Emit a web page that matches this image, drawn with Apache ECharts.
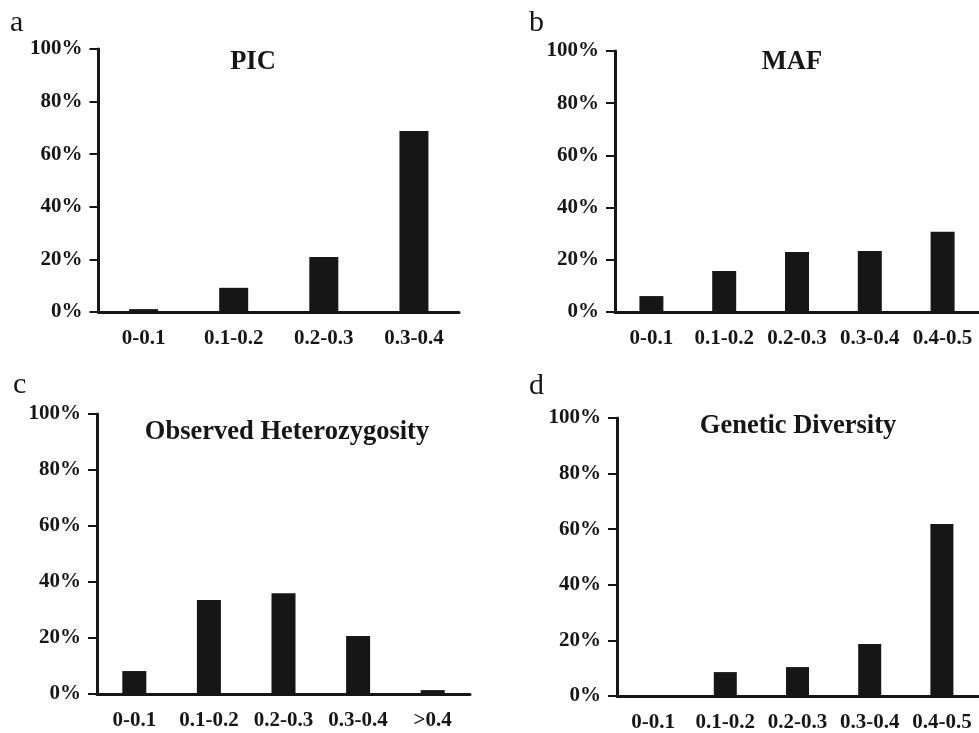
<!DOCTYPE html>
<html>
<head>
<meta charset="utf-8">
<script src="https://cdn.jsdelivr.net/npm/echarts@6/dist/echarts.min.js"></script>
<style>
  html, body { margin: 0; padding: 0; background: #fff; }
  #chart { width: 979px; height: 733px; }
</style>
</head>
<body>
<div id="chart"></div>
<script>
// categories
const cats_a = ['0-0.1', '0.1-0.2', '0.2-0.3', '0.3-0.4']
const cats_b = ['0-0.1', '0.1-0.2', '0.2-0.3', '0.3-0.4', '0.4-0.5']
const cats_c = ['0-0.1', '0.1-0.2', '0.2-0.3', '0.3-0.4', '>0.4']
const cats_d = ['0-0.1', '0.1-0.2', '0.2-0.3', '0.3-0.4', '0.4-0.5']
// percent values
const pic_values = [1.1, 9.2, 20.9, 68.8]
const maf_values = [6.1, 15.7, 23.0, 23.4, 30.7]
const ho_values = [8.2, 33.6, 36.0, 20.7, 1.4]
const gd_values = [0, 8.6, 10.4, 18.7, 61.9]
const panel_titles = ['PIC', 'MAF', 'Observed Heterozygosity', 'Genetic Diversity']
const panel_letters = ['a', 'b', 'c', 'd']

const myChart = echarts.init(document.getElementById('chart'))

const font = "'Liberation Serif', 'Times New Roman', serif"
const ink = '#161616'

// grid boxes, one per panel
const grids = [
  { left: 98.5, top: 49, width: 360.5, height: 263 },
  { left: 615, top: 51, width: 368.5, height: 261 },
  { left: 97, top: 414, width: 373, height: 280 },
  { left: 617, top: 418, width: 361, height: 278 }
]
const cats = [cats_a, cats_b, cats_c, cats_d]
const values = [pic_values, maf_values, ho_values, gd_values]
const barWidths = [29, 24, 24, 23]

const xAxes = cats.map((c, i) => ({
  type: 'category',
  gridIndex: i,
  data: c,
  axisTick: { show: false },
  axisLine: { lineStyle: { color: ink, width: 3 } },
  axisLabel: {
    color: ink,
    fontFamily: font,
    fontWeight: 'bold',
    fontSize: 21,
    margin: 16,
    interval: 0
  }
}))

const yAxes = cats.map((c, i) => ({
  type: 'value',
  gridIndex: i,
  min: 0,
  max: 100,
  interval: 20,
  splitLine: { show: false },
  axisLine: { show: true, lineStyle: { color: ink, width: 3 } },
  axisTick: { show: true, length: 9, lineStyle: { color: ink, width: 2 } },
  axisLabel: {
    color: ink,
    fontFamily: font,
    fontWeight: 'bold',
    fontSize: 21,
    margin: 16,
    formatter: '{value}%'
  }
}))

const series = values.map((v, i) => ({
  type: 'bar',
  xAxisIndex: i,
  yAxisIndex: i,
  data: v,
  barWidth: barWidths[i],
  itemStyle: { color: ink },
  z: 1
}))

// title and letter positions
const titlePos = [[253, 62], [792, 62], [287, 432], [798, 426]]
const letterPos = [[10, 23], [529, 23], [13, 385], [529, 386]]

const graphics = []
panel_titles.forEach((t, i) => {
  graphics.push({
    type: 'text',
    x: titlePos[i][0],
    y: titlePos[i][1],
    style: {
      text: t,
      fill: ink,
      font: "bold 26.5px 'Liberation Serif', 'Times New Roman', serif",
      textAlign: 'center',
      textVerticalAlign: 'middle'
    }
  })
})
panel_letters.forEach((t, i) => {
  graphics.push({
    type: 'text',
    x: letterPos[i][0],
    y: letterPos[i][1],
    style: {
      text: t,
      fill: ink,
      font: "30px 'Liberation Serif', 'Times New Roman', serif",
      textAlign: 'left',
      textVerticalAlign: 'middle'
    }
  })
})

const option = {
  backgroundColor: '#fff',
  animation: false,
  grid: grids.map(g => Object.assign({ containLabel: false }, g)),
  xAxis: xAxes,
  yAxis: yAxes,
  series: series,
  graphic: graphics
}
myChart.setOption(option)
</script>
</body>
</html>
